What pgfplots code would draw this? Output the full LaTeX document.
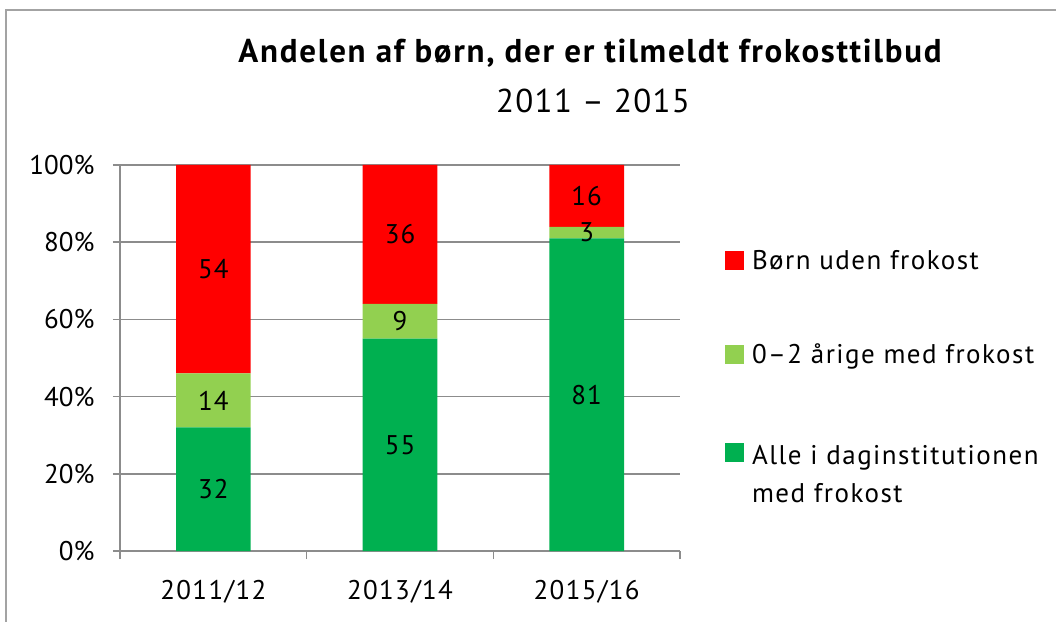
\documentclass[border=0pt]{standalone}
\usepackage{pgfplots}
\pgfplotsset{compat=1.18}
\usepackage{fontspec}
\setmainfont{PT Sans}
\definecolor{cRed}{HTML}{FF0000}
\definecolor{cLight}{HTML}{92D050}
\definecolor{cGreen}{HTML}{00B050}
\definecolor{cGrid}{HTML}{8C8C8C}
\begin{document}
\begin{tikzpicture}
\useasboundingbox (0pt,0pt) rectangle (1056pt,621pt);
\draw[color=cGrid!80, line width=1.5pt] (6pt,-2pt) -- (6pt,611pt) -- (1060pt,611pt);
\node[font=\fontsize{33}{40}\selectfont\bfseries\addfontfeature{LetterSpace=5.2}] at (590pt,568pt) {Andelen af børn, der er tilmeldt frokosttilbud};
\node[font=\fontsize{33}{40}\selectfont\addfontfeature{LetterSpace=4}] at (593pt,520pt) {2011 – 2015};
\begin{axis}[
  at={(120pt,70pt)}, anchor=south west, scale only axis,
  width=560pt, height=386pt,
  ybar stacked, bar width=0.4,
  xmin=-0.5, xmax=2.5, ymin=0, ymax=100,
  xtick={0,1,2}, xticklabels={2011/12,2013/14,2015/16},
  minor xtick={-0.5,0.5,1.5,2.5},
  ytick={0,20,...,100},
  yticklabel={\pgfmathprintnumber{\tick}\%},
  axis x line=bottom, axis y line=left,
  axis line style={-, draw=cGrid, line width=1.5pt},
  tick align=outside,
  major tick length=7pt, minor tick length=8pt,
  major x tick style={draw=none},
  minor x tick style={draw=cGrid, line width=1.5pt},
  major y tick style={draw=cGrid, line width=1.5pt},
  ymajorgrids, grid style={draw=cGrid, line width=1.5pt},
  ticklabel style={font=\fontsize{27}{32}\selectfont},
  yticklabel style={xshift=-15pt},
  xticklabel style={yshift=-19pt, font=\fontsize{27}{32}\selectfont\addfontfeature{LetterSpace=5}},
  /pgf/number format/assume math mode=true,
  legend style={draw=none, fill=none, at={(1.080,0.785)}, anchor=north west,
    font=\fontsize{27}{38}\selectfont\addfontfeature{LetterSpace=5.5}, row sep=69pt, inner sep=0pt,
    /tikz/every even column/.append style={column sep=8pt}},
  legend cell align=left,
  reverse legend,
  legend image code/.code={\fill[#1,draw=none] (0pt,-9.5pt) rectangle (19pt,9.5pt);},
]
\addplot[fill=cGreen, draw=none] coordinates {(0,32) (1,55) (2,81)};
\addlegendentry{\hspace{6pt}\begin{tabular}[t]{@{}l@{}}Alle i daginstitutionen\\med frokost\end{tabular}}
\addplot[fill=cLight, draw=none] coordinates {(0,14) (1,9) (2,3)};
\addlegendentry{\hspace{6pt}0–2 årige med frokost}
\addplot[fill=cRed, draw=none] coordinates {(0,54) (1,36) (2,16)};
\addlegendentry{\hspace{6pt}Børn uden frokost}
\end{axis}
\begin{axis}[
  at={(120pt,70pt)}, anchor=south west, scale only axis,
  width=560pt, height=386pt,
  xmin=-0.5, xmax=2.5, ymin=0, ymax=100,
  hide axis, clip=false,
  nodes near coords, point meta=explicit symbolic,
  nodes near coords style={anchor=center, inner sep=0pt, font=\fontsize{27}{32}\selectfont\addfontfeature{LetterSpace=4}},
]
\addplot[only marks, mark=none] coordinates {
  (0,16) [32] (0,39) [14] (0,73) [54]
  (1,27.5) [55] (1,59.5) [9] (1,82) [36]
  (2,40.5) [81] (2,82.5) [3] (2,92) [16]
};
\end{axis}
\end{tikzpicture}
\end{document}
